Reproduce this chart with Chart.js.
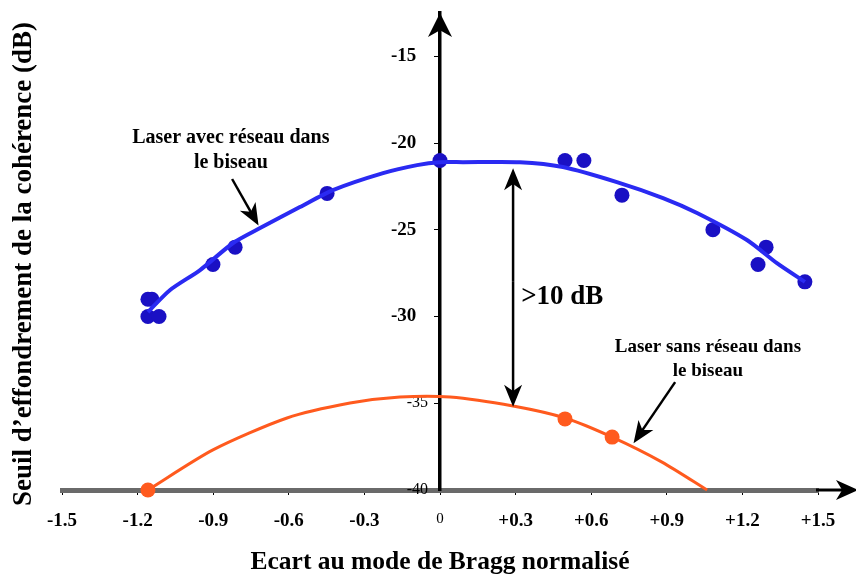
<!DOCTYPE html>
<html>
<head>
<meta charset="utf-8">
<script src="https://cdn.jsdelivr.net/npm/chart.js@4.4.0/dist/chart.umd.min.js"></script>
<style>
  html, body { margin: 0; padding: 0; background: #fff; }
  #wrap { width: 856px; height: 575px; }
</style>
</head>
<body>
<div id="wrap"><canvas id="chart"></canvas></div>
<script>
// tick values
const xTicks = [-1.5, -1.2, -0.9, -0.6, -0.3, 0, 0.3, 0.6, 0.9, 1.2, 1.5];
const yTicks = [-40, -35, -30, -25, -20, -15];

// laser avec réseau - measured points
const avecX = [-1.159, -1.143, -1.159, -1.115, -0.901, -0.813, -0.448, 0, 0.496, 0.571, 0.722, 1.083, 1.294, 1.262, 1.448];
const avecY = [-29, -29, -30, -30, -27, -26, -22.9, -21, -21, -21, -23, -25, -26, -27, -28];
// laser avec réseau - fitted curve
const avecFitX = [-1.159, -1.071, -0.952, -0.821, -0.714, -0.556, -0.425, -0.226, -0.091, 0, 0.091, 0.317, 0.488, 0.702, 0.885, 1.02, 1.218, 1.337, 1.448];
const avecFitY = [-29.74, -28.47, -27.32, -25.76, -24.9, -23.69, -22.71, -21.73, -21.27, -21.1, -21.1, -21.1, -21.38, -22.25, -23.17, -24.03, -25.59, -26.92, -28.0];

// laser sans réseau - measured points
const sansX = [-1.159, 0.496, 0.683];
const sansY = [-40, -35.9, -36.95];
// laser sans réseau - fitted curve
const sansFitX = [-1.159, -0.901, -0.607, -0.357, -0.159, 0.04, 0.29, 0.496, 0.683, 0.881, 1.06];
const sansFitY = [-40, -37.69, -35.85, -34.99, -34.64, -34.64, -35.16, -35.85, -36.95, -38.39, -40];

const zip = (xs, ys) => xs.map((x, i) => ({ x: x, y: ys[i] }));

const SERIF = '"Liberation Serif", "Times New Roman", serif';
const lightTicks = [-35, -40];
const yTitle = 'Seuil d’effondrement de la cohérence (dB)';

// annotation placement (in data units)
const notes = [
  { lines: ['Laser avec réseau dans', 'le biseau'], x: -0.83, y: -19.7, size: 20 },
  { lines: ['Laser sans réseau dans', 'le biseau'], x: 1.063, y: -31.75, size: 19 },
  { lines: ['>10 dB'], x: 0.322, y: -28.9, size: 27, align: 'left' }
];
const arrows = [
  { from: [-0.825, -22.07], to: [-0.72, -24.75] },
  { from: [0.933, -33.78], to: [0.768, -37.3] },
  { from: [0.29, -28.0], to: [0.29, -21.45] },
  { from: [0.29, -28.0], to: [0.29, -35.2] }
];

function arrowHead(ctx, x1, y1, x2, y2, len, half) {
  const a = Math.atan2(y2 - y1, x2 - x1);
  const c = Math.cos(a), s = Math.sin(a);
  ctx.beginPath();
  ctx.moveTo(x2, y2);
  ctx.lineTo(x2 - len * c + half * s, y2 - len * s - half * c);
  ctx.lineTo(x2 - len * 0.72 * c, y2 - len * 0.72 * s);
  ctx.lineTo(x2 - len * c - half * s, y2 - len * s + half * c);
  ctx.closePath();
  ctx.fill();
}

const decor = {
  id: 'decor',
  afterDraw(chart) {
    const { ctx, chartArea, scales: { x, y } } = chart;
    ctx.save();
    ctx.fillStyle = '#000';
    ctx.strokeStyle = '#000';

    // y axis arrow head
    const x0 = x.getPixelForValue(0);
    arrowHead(ctx, x0, chartArea.top + 30, x0, chartArea.top, 24, 12);

    // x axis extension + arrow head
    const yb = chartArea.bottom;
    const xe = x.getPixelForValue(1.5);
    ctx.lineWidth = 3;
    ctx.beginPath();
    ctx.moveTo(xe - 2, yb);
    ctx.lineTo(chart.width - 4, yb);
    ctx.stroke();
    arrowHead(ctx, chart.width - 30, yb, chart.width + 2, yb, 22, 10);

    // annotation arrows
    ctx.lineWidth = 2.5;
    arrows.forEach(a => {
      const px1 = x.getPixelForValue(a.from[0]), py1 = y.getPixelForValue(a.from[1]);
      const px2 = x.getPixelForValue(a.to[0]), py2 = y.getPixelForValue(a.to[1]);
      const ang = Math.atan2(py2 - py1, px2 - px1);
      ctx.beginPath();
      ctx.moveTo(px1, py1);
      ctx.lineTo(px2 - 10 * Math.cos(ang), py2 - 10 * Math.sin(ang));
      ctx.stroke();
      arrowHead(ctx, px1, py1, px2, py2, 22, 9);
    });

    // annotation texts
    notes.forEach(n => {
      ctx.font = 'bold ' + n.size + 'px ' + SERIF;
      ctx.textAlign = n.align || 'center';
      ctx.textBaseline = 'middle';
      const px = x.getPixelForValue(n.x);
      let py = y.getPixelForValue(n.y);
      n.lines.forEach(t => {
        ctx.fillText(t, px, py);
        py += n.size * 1.25;
      });
    });

    // vertical axis title, at the left edge
    ctx.translate(24, 264);
    ctx.rotate(-Math.PI / 2);
    ctx.font = 'bold 27px ' + SERIF;
    ctx.textAlign = 'center';
    ctx.textBaseline = 'middle';
    ctx.fillText(yTitle, 0, 0);
    ctx.restore();
  }
};

new Chart(document.getElementById('chart'), {
  type: 'scatter',
  data: {
    datasets: [
      {
        label: 'Laser avec réseau (courbe)',
        data: zip(avecFitX, avecFitY),
        showLine: true,
        borderColor: '#2a2af2',
        borderWidth: 4,
        pointRadius: 0,
        tension: 0.25,
        clip: false,
        order: 1
      },
      {
        label: 'Laser avec réseau',
        data: zip(avecX, avecY),
        backgroundColor: '#1a10c4',
        borderColor: '#1a10c4',
        pointRadius: 7.5,
        borderWidth: 0,
        clip: false,
        order: 2
      },
      {
        label: 'Laser sans réseau (courbe)',
        data: zip(sansFitX, sansFitY),
        showLine: true,
        borderColor: '#ff5a1e',
        borderWidth: 3,
        pointRadius: 0,
        tension: 0.25,
        clip: false,
        order: 3
      },
      {
        label: 'Laser sans réseau',
        data: zip(sansX, sansY),
        backgroundColor: '#ff5a1e',
        borderColor: '#ff5a1e',
        pointRadius: 7.5,
        borderWidth: 0,
        clip: false,
        order: 0
      }
    ]
  },
  options: {
    responsive: true,
    maintainAspectRatio: false,
    animation: false,
    layout: { padding: { top: 13, right: 38, left: 62, bottom: 0 } },
    plugins: { legend: { display: false }, tooltip: { enabled: false } },
    scales: {
      x: {
        type: 'linear',
        position: 'bottom',
        min: -1.5,
        max: 1.5,
        afterBuildTicks: s => { s.ticks = xTicks.map(v => ({ value: v })); },
        afterFit: s => { s.height = 85; s.paddingLeft = 0; s.paddingRight = 0; },
        border: { color: '#6a6a6a', width: 5 },
        grid: { drawOnChartArea: false, color: '#000', tickLength: 5, lineWidth: 1 },
        ticks: {
          autoSkip: false,
          maxRotation: 0,
          padding: 15,
          color: '#000',
          font: c => (c.tick && c.tick.value === 0)
            ? { family: SERIF, size: 15, weight: 'normal' }
            : { family: SERIF, size: 19, weight: 'bold' },
          callback: v => v === 0 ? '0' : (v > 0 ? '+' : '') + Number(v).toFixed(1)
        },
        title: {
          display: true,
          text: 'Ecart au mode de Bragg normalisé',
          color: '#000',
          font: { family: SERIF, size: 25.5, weight: 'bold' },
          padding: { top: 2, bottom: -3 }
        }
      },
      y: {
        type: 'linear',
        position: { x: 0 },
        min: -40,
        max: -12.5,
        afterBuildTicks: s => { s.ticks = yTicks.map(v => ({ value: v })); },
        afterFit: s => { s.paddingTop = 0; s.paddingBottom = 0; },
        border: { color: '#000', width: 3.5 },
        grid: { drawOnChartArea: false, color: '#000', tickLength: 4, lineWidth: 1 },
        ticks: {
          color: '#000',
          // labels of a centred axis sit on the axis line; trailing spaces push them left
          callback: v => String(v) + (lightTicks.includes(v) ? '   ' : '     '),
          font: c => lightTicks.includes(c.tick && c.tick.value)
            ? { family: SERIF, size: 16, weight: 'normal' }
            : { family: SERIF, size: 19, weight: 'bold' }
        }
      }
    }
  },
  plugins: [decor]
});
</script>
</body>
</html>
